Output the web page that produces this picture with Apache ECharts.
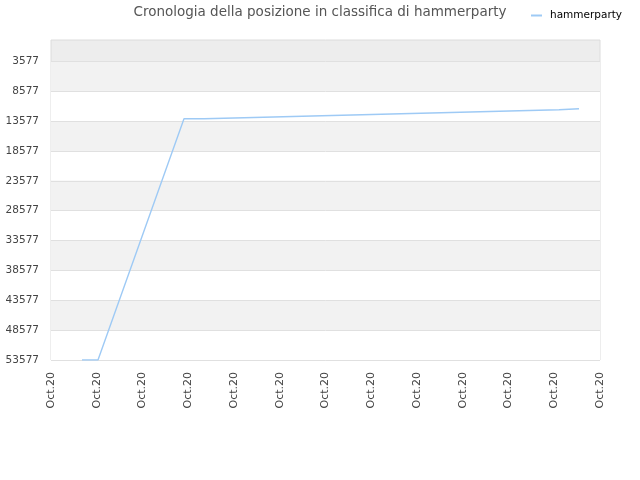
<!DOCTYPE html>
<html>
<head>
<meta charset="utf-8">
<script src="https://cdn.jsdelivr.net/npm/echarts@6/dist/echarts.min.js"></script>
<style>html,body{margin:0;padding:0;background:#fff;}#c{width:640px;height:480px;}</style>
</head>
<body>
<div id="c"></div>
<script>
// x positions in units of the x tick spacing (0..12), y = ranking position
var xPositions = [0.678, 1.027, 2.907, 3.344, 3.344, 4.219, 4.219, 5.071, 5.071, 5.923, 5.923, 6.798, 6.798, 7.650, 7.650, 8.525, 8.525, 9.377, 9.377, 10.230, 10.230, 11.104, 11.104, 11.541];
var ranks = [53577, 53577, 13190, 13190, 13022, 13022, 12855, 12855, 12687, 12687, 12520, 12520, 12352, 12352, 12184, 12184, 12017, 12017, 11849, 11849, 11682, 11682, 11514, 11514];
var xTickLabels = ['Oct.20','Oct.20','Oct.20','Oct.20','Oct.20','Oct.20','Oct.20','Oct.20','Oct.20','Oct.20','Oct.20','Oct.20','Oct.20'];
var yTickValues = [3577, 8577, 13577, 18577, 23577, 28577, 33577, 38577, 43577, 48577, 53577];
var seriesName = 'hammerparty';
var titleText = 'Cronologia della posizione in classifica di hammerparty';

var data = xPositions.map(function (x, i) { return [x, ranks[i]]; });
var chart = echarts.init(document.getElementById('c'), null, {renderer: 'canvas'});
chart.setOption({
  animation: false,
  backgroundColor: '#fff',
  textStyle: {fontFamily: 'DejaVu Sans'},
  title: {
    text: titleText, left: 'center', top: 0,
    textStyle: {fontSize: 13.5, fontWeight: 'normal', color: '#555', fontFamily: 'DejaVu Sans'}
  },
  legend: {
    left: 526, top: 5, icon: 'rect', itemWidth: 11, itemHeight: 2,
    textStyle: {fontSize: 10.5, color: '#000', fontFamily: 'DejaVu Sans', padding: [0,0,0,3]},
    data: [seriesName]
  },
  grid: {
    left: 51, right: 40, top: 40, bottom: 120,
    show: true, backgroundColor: '#ededed', borderColor: '#dcdcdc', borderWidth: 1
  },
  xAxis: {
    type: 'value', min: 0, max: 12, interval: 1,
    axisLine: {show: false}, axisTick: {show: false}, splitLine: {show: false},
    axisLabel: {
      rotate: 90, margin: 12, fontSize: 11, color: '#444', fontFamily: 'DejaVu Sans',
      showMinLabel: true, showMaxLabel: true,
      formatter: function (v) { return xTickLabels[Math.round(v)]; }
    }
  },
  yAxis: {
    type: 'value', inverse: true, min: 0, max: 53577,
    axisLine: {show: false},
    axisTick: {show: false, customValues: yTickValues},
    axisLabel: {customValues: yTickValues, fontSize: 10.5, color: '#444', margin: 12, fontFamily: 'DejaVu Sans',
      formatter: function (v) { return String(v); }},
    splitLine: {show: true, lineStyle: {color: '#e0e0e0', width: 1}},
    splitArea: {show: true, areaStyle: {color: ['#f2f2f2', '#ffffff']}}
  },
  series: [{
    name: seriesName, type: 'line', data: data, symbol: 'none',
    lineStyle: {color: '#9ecaf5', width: 1.4}, itemStyle: {color: '#9ecaf5'}
  }]
});
</script>
</body>
</html>
